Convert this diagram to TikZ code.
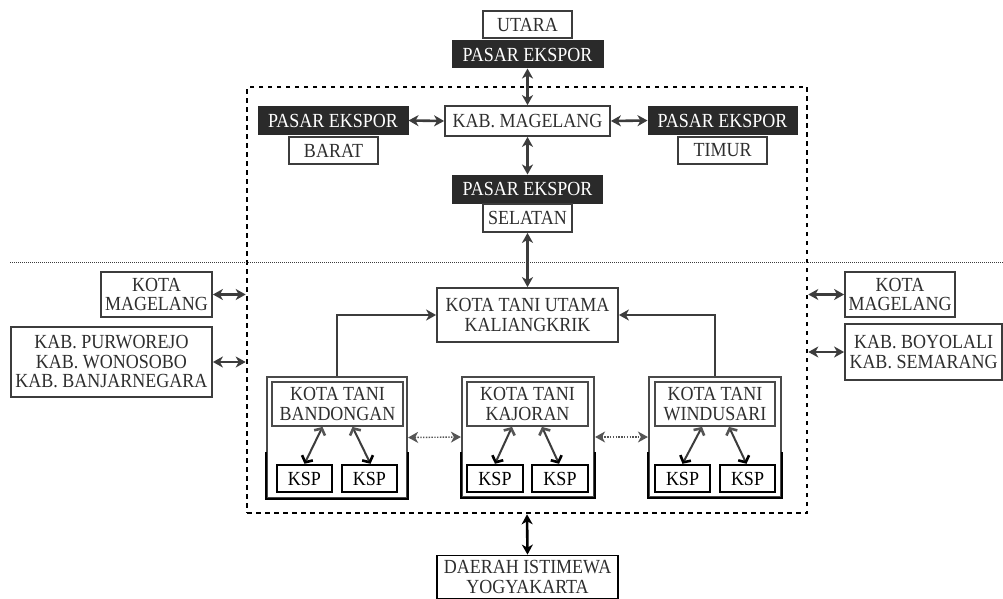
\documentclass[tikz,border=0pt]{standalone}
\usepackage{fontspec}
\setmainfont{Liberation Serif}[FakeStretch=0.9]
\usetikzlibrary{arrows.meta}
\definecolor{ln}{HTML}{3C3C3C}
\definecolor{txt}{HTML}{2E2E2E}
\definecolor{dk}{HTML}{2A2A2A}
\definecolor{tipg}{HTML}{555555}
\definecolor{og}{HTML}{4A4A4A}
\begin{document}
\begin{tikzpicture}[x=1pt,y=-1pt,
  every node/.style={font=\fontsize{20}{19.5}\selectfont, align=center, inner sep=0pt, text=txt},
  box/.style={draw=ln, line width=1.8pt, fill=white},
  darkbox/.style={draw=dk, fill=dk, line width=1pt, text=white},
  outerbox/.style={draw=og, line width=2.2pt, fill=white},
  innerbox/.style={draw=og, line width=1.8pt, fill=white},
  kspbox/.style={draw=black, line width=2.4pt, fill=white, text=black, minimum width=55pt, minimum height=27pt},
  bi/.style={draw=ln, line width=2.6pt, arrows={Stealth[length=10pt,width=11pt,inset=3pt]-Stealth[length=10pt,width=11pt,inset=3pt]}},
  single/.style={draw=ln, line width=2pt, arrows={-Stealth[length=10pt,width=11pt,inset=3pt]}},
  dotbi/.style={draw=tipg, line width=1.4pt, dash pattern=on 1.4pt off 1.4pt, arrows={Stealth[length=10pt,width=11pt,inset=3pt]-Stealth[length=10pt,width=11pt,inset=3pt]}},
  kspar/.style={draw=ln, line width=2pt, arrows={Straight Barb[length=5pt,width=12pt,line width=2.6pt,color=tipg]-Straight Barb[length=5pt,width=12pt,line width=2.6pt,color=black]}}
]
\useasboundingbox (0,0) rectangle (1003,599);
\fill[white] (0,0) rectangle (1003,599);

% dashed region
\node[draw=black, line width=2.6pt, dash pattern=on 4.5pt off 4.5pt, minimum width=560pt, minimum height=426pt] (cl) at (527,300) {};
% dotted horizontal divider
\draw[ln, line width=1pt, dash pattern=on 1pt off 1pt] (10,262) -- (1003,262);

% top part
\node[box, minimum width=89pt, minimum height=27pt] (utara) at (527.5,24.5) {UTARA};
\node[darkbox, minimum width=151pt, minimum height=27pt] (pu) at (527.5,54.5) {PASAR EKSPOR};
\node[box, minimum width=165pt, minimum height=30pt] (kab) at (527.5,121) {KAB. MAGELANG};
\node[darkbox, minimum width=150pt, minimum height=27pt] (pb) at (333,120.5) {PASAR EKSPOR};
\node[box, minimum width=89pt, minimum height=27pt] (barat) at (333.5,150.5) {BARAT};
\node[darkbox, minimum width=149pt, minimum height=27pt] (pt) at (722.5,120.5) {PASAR EKSPOR};
\node[box, minimum width=89pt, minimum height=27pt] (timur) at (722.5,150.5) {TIMUR};
\node[darkbox, minimum width=150pt, minimum height=28pt] (ps) at (527.5,189) {PASAR EKSPOR};
\node[box, minimum width=89pt, minimum height=28pt] (selatan) at (527.5,218) {SELATAN};

\draw[bi] (pu.south) -- (kab.north);
\draw[bi] (pb.east) -- (kab.west);
\draw[bi] (kab.east) -- (pt.west);
\draw[bi] (kab.south) -- (ps.north);

% main town
\node[box, minimum width=181pt, minimum height=54pt] (utama) at (527.5,315) {KOTA TANI UTAMA\\KALIANGKRIK};
\draw[bi] (selatan.south) -- (utama.north);

% side regions
\node[box, minimum width=111pt, minimum height=45pt] (kmL) at (156.5,294.5) {KOTA\\MAGELANG};
\node[box, minimum width=201pt, minimum height=70pt] (purL) at (111.5,362) {KAB. PURWOREJO\\KAB. WONOSOBO\\KAB. BANJARNEGARA};
\node[box, minimum width=110pt, minimum height=45pt] (kmR) at (900,294.5) {KOTA\\MAGELANG};
\node[box, minimum width=157pt, minimum height=56pt] (boyR) at (923.5,352) {KAB. BOYOLALI\\KAB. SEMARANG};
\draw[bi] (kmL.east) -- (kmL.east -| cl.west);
\draw[bi] (purL.east) -- (purL.east -| cl.west);
\draw[bi] (kmR.west -| cl.east) -- (kmR.west);
\draw[bi] (boyR.west -| cl.east) -- (boyR.west);

% clusters
\node[outerbox, minimum width=140pt, minimum height=121pt] (bandO) at (337,437.5) {};
\node[innerbox, minimum width=131pt, minimum height=44pt] (bandI) at (337.5,404) {KOTA TANI\\BANDONGAN};
\node[kspbox] (bandK1) at (304.5,478.5) {KSP};
\node[kspbox] (bandK2) at (369.5,478.5) {KSP};

\node[outerbox, minimum width=132pt, minimum height=120pt] (kajO) at (528,437) {};
\node[innerbox, minimum width=121pt, minimum height=44pt] (kajI) at (527.5,404) {KOTA TANI\\KAJORAN};
\node[kspbox, minimum width=56pt] (kajK1) at (495,478.5) {KSP};
\node[kspbox, minimum width=56pt] (kajK2) at (560,478.5) {KSP};

\node[outerbox, minimum width=132pt, minimum height=120pt] (winO) at (715,437) {};
\node[innerbox, minimum width=120pt, minimum height=44pt] (winI) at (715,404) {KOTA TANI\\WINDUSARI};
\node[kspbox] (winK1) at (682.5,478.5) {KSP};
\node[kspbox] (winK2) at (747.5,478.5) {KSP};

\coordinate (cut) at (0,452);
\foreach \o in {bandO,kajO,winO}{
  \draw[black, line width=2.4pt] (\o.west |- cut) -- (\o.south west) -- (\o.south east) -- (\o.east |- cut);
}

\draw[kspar] ([xshift=-15pt]bandI.south) -- (bandK1.north);
\draw[kspar] ([xshift=15pt]bandI.south) -- ([xshift=1pt]bandK2.north);
\draw[kspar] ([xshift=-15.5pt]kajI.south) -- (kajK1.north);
\draw[kspar] ([xshift=14.5pt]kajI.south) -- ([xshift=-1pt]kajK2.north);
\draw[kspar] ([xshift=-13pt]winI.south) -- (winK1.north);
\draw[kspar] ([xshift=14pt]winI.south) -- ([xshift=-1pt]winK2.north);

\draw[single] (bandO.north) |- (utama.west);
\draw[single] (winO.north) |- (utama.east);
\draw[dotbi] (bandO.east) -- (kajO.west);
\draw[dotbi] (kajO.east) -- (winO.west);

% bottom
\node[box, draw=black, minimum width=181pt, minimum height=43pt] (diy) at (527.5,577) {DAERAH ISTIMEWA\\YOGYAKARTA};
\draw[bi, draw=black] (cl.south) -- (diy.north);
\end{tikzpicture}
\end{document}
